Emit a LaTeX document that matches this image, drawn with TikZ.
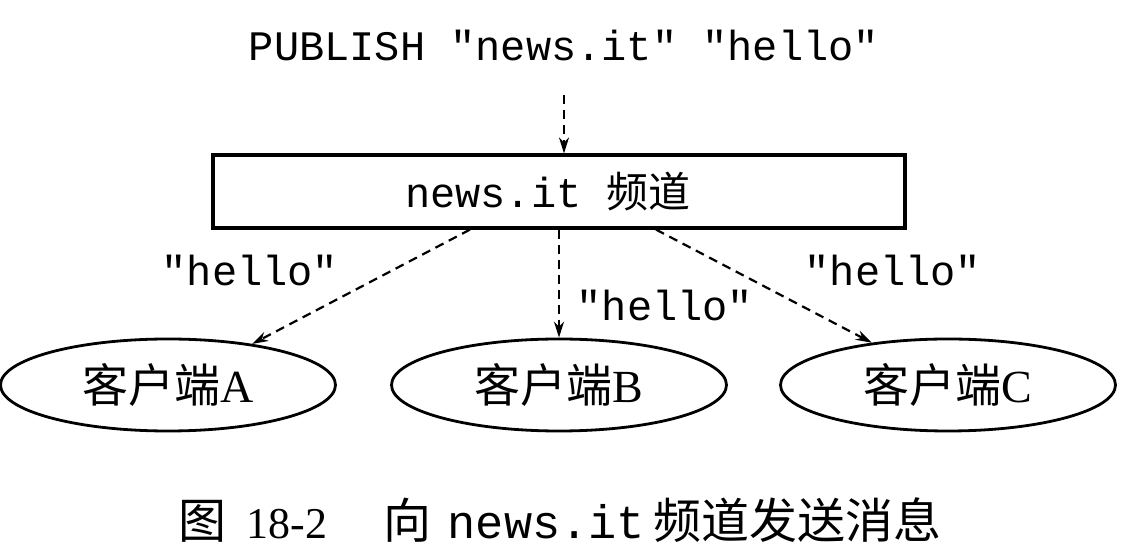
\documentclass[tikz,border=0pt]{standalone}
\usepackage{fontspec}
\setmainfont{Liberation Serif}
\setmonofont{Liberation Mono}
\newfontfamily\cjk{Noto Sans CJK SC}
\usetikzlibrary{shapes.geometric,arrows.meta}
\begin{document}
\begin{tikzpicture}[x=0.5pt,y=-0.5pt,
  conn/.style={dash pattern=on 4.5pt off 3pt, line width=1.1pt, -{Stealth[length=8pt,width=5pt]}},
  client/.style={ellipse, draw, line width=1.4pt, minimum width=167.5pt, minimum height=46pt, inner sep=0pt, font=\fontsize{23}{25}\selectfont},
  msg/.style={font=\ttfamily\fontsize{21}{24}\selectfont},
  chan/.style={draw, line width=1.6pt, minimum width=346pt, minimum height=36.5pt, inner sep=0pt, font=\fontsize{21}{24}\selectfont}]
\useasboundingbox (0,0) rectangle (1130,560);
\fill[white] (0,0) rectangle (1130,560);
\node[msg] (pub) at (564,45) {PUBLISH "news.it" "hello"};
\node[chan] (ch) at (559,191.5) {\hspace*{-11pt}\ttfamily news.it {\cjk 频道}};
\coordinate (p0) at (564,95);
\draw[conn] (p0) -- (ch.north -| p0);
\node[client] (A) at (168,385) {{\cjk 客户端}A};
\node[client] (B) at (559,385) {{\cjk 客户端}B};
\node[client] (C) at (948,385) {{\cjk 客户端}C};
\draw[conn] ([xshift=-44.5pt]ch.south) -- (A.26);
\draw[conn] (ch.south) -- (B.north);
\draw[conn] ([xshift=48.5pt]ch.south) -- (C.151);
\node[msg] (hA) at (250,270) {"hello"};
\node[msg] (hB) at (665,305) {"hello"};
\node[msg] (hC) at (893,270) {"hello"};
\node[font=\fontsize{24}{28}\selectfont, inner sep=0pt] (cap) at (560,520) {{\cjk 图}\hspace{10pt}{\fontsize{22}{26}\selectfont 18-2}\hspace{28pt}{\cjk 向}\hspace{8pt}{\ttfamily\fontsize{23.5}{26}\selectfont news.it}\hspace{4pt}{\cjk 频道发送消息}};
\end{tikzpicture}
\end{document}
